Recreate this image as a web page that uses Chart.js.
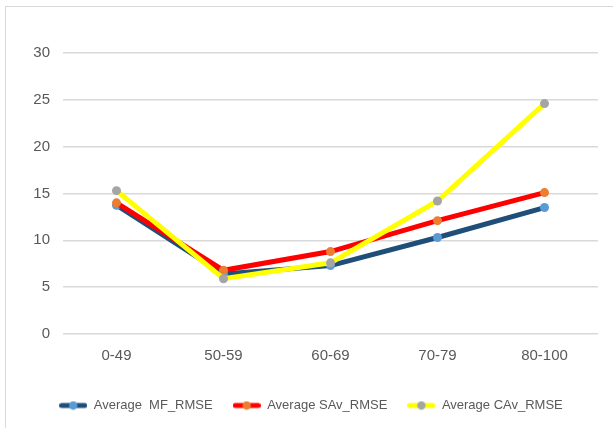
<!DOCTYPE html>
<html>
<head>
<meta charset="utf-8">
<script src="https://cdn.jsdelivr.net/npm/chart.js@4.4.1/dist/chart.umd.min.js"></script>
<style>
  html, body { margin: 0; padding: 0; background: #ffffff; }
  #wrap { position: relative; width: 613px; height: 428px; }
  #frame { position: absolute; left: 5px; top: 6px; right: 0; bottom: 0;
           border-left: 1px solid #d9d9d9; border-top: 1px solid #d9d9d9; }
  canvas { position: absolute; left: 0; top: 0; }
</style>
</head>
<body>
<div id="wrap">
  <div id="frame"></div>
  <canvas id="chart" width="613" height="428"></canvas>
</div>
<script>
// Score bands on the x axis
const categories = ['0-49', '50-59', '60-69', '70-79', '80-100'];

// Average RMSE per band
const mfRmse  = [13.75, 6.4, 7.3, 10.3, 13.5];
const savRmse = [14.0, 6.8, 8.8, 12.1, 15.1];
const cavRmse = [15.3, 5.9, 7.6, 14.2, 24.6];

const seriesNames = ['Average  MF_RMSE', 'Average SAv_RMSE', 'Average CAv_RMSE'];
const yTicks = [0, 5, 10, 15, 20, 25, 30];

const FONT = "'Liberation Sans Narrow', 'Liberation Sans', 'Open Sans', sans-serif";
const TEXT = '#595959';

const styles = [
  { line: '#1f4e79', point: '#5b9bd5' },
  { line: '#ff0000', point: '#ed7d31' },
  { line: '#ffff00', point: '#a5a5a5' }
];

// Small swatch: thick line with a dot in the middle, used in the legend
function swatch(lineColor, dotColor) {
  const c = document.createElement('canvas');
  c.width = 28; c.height = 10;
  const g = c.getContext('2d');
  g.strokeStyle = lineColor;
  g.lineWidth = 5;
  g.lineCap = 'round';
  g.beginPath(); g.moveTo(2.5, 5); g.lineTo(25.5, 5); g.stroke();
  g.fillStyle = dotColor;
  g.beginPath(); g.arc(14, 5, 4.2, 0, Math.PI * 2); g.fill();
  return c;
}
const swatches = styles.map(s => swatch(s.line, s.point));

const seriesData = [mfRmse, savRmse, cavRmse];
const datasets = seriesData.map((d, i) => ({
  label: seriesNames[i],
  data: d,
  borderColor: styles[i].line,
  backgroundColor: styles[i].point,
  pointBackgroundColor: styles[i].point,
  pointBorderWidth: 0,
  pointRadius: 4.5,
  pointHoverRadius: 4.5,
  borderWidth: 5,
  tension: 0,
  fill: false,
  order: 3 - i
}));

new Chart(document.getElementById('chart'), {
  type: 'line',
  data: { labels: categories, datasets },
  options: {
    responsive: false,
    animation: false,
    events: [],
    layout: { padding: { left: 24, right: 15, top: 53, bottom: 6 } },
    scales: {
      x: {
        offset: true,
        grid: { display: false, drawTicks: false },
        border: { display: false },
        ticks: { color: TEXT, font: { family: FONT, size: 15 }, padding: 13 },
        afterFit: s => { s.height = 45; }
      },
      y: {
        min: 0, max: 30,
        afterBuildTicks: s => { s.ticks = yTicks.map(v => ({ value: v })); },
        grid: { color: '#d9d9d9', lineWidth: 1.5, drawTicks: false },
        border: { display: false },
        ticks: { color: TEXT, font: { family: FONT, size: 15 }, padding: 13 },
        afterFit: s => { s.width = 39; }
      }
    },
    plugins: {
      tooltip: { enabled: false },
      legend: {
        position: 'bottom',
        labels: {
          usePointStyle: true,
          pointStyleWidth: 28,
          padding: 20,
          color: TEXT,
          font: { family: FONT, size: 13 },
          generateLabels: chart => seriesNames.map((n, i) => ({
            text: n,
            datasetIndex: i,
            pointStyle: swatches[i],
            fillStyle: styles[i].point,
            strokeStyle: styles[i].line,
            lineWidth: 0,
            hidden: false,
            fontColor: TEXT
          }))
        }
      }
    }
  }
});
</script>
</body>
</html>
